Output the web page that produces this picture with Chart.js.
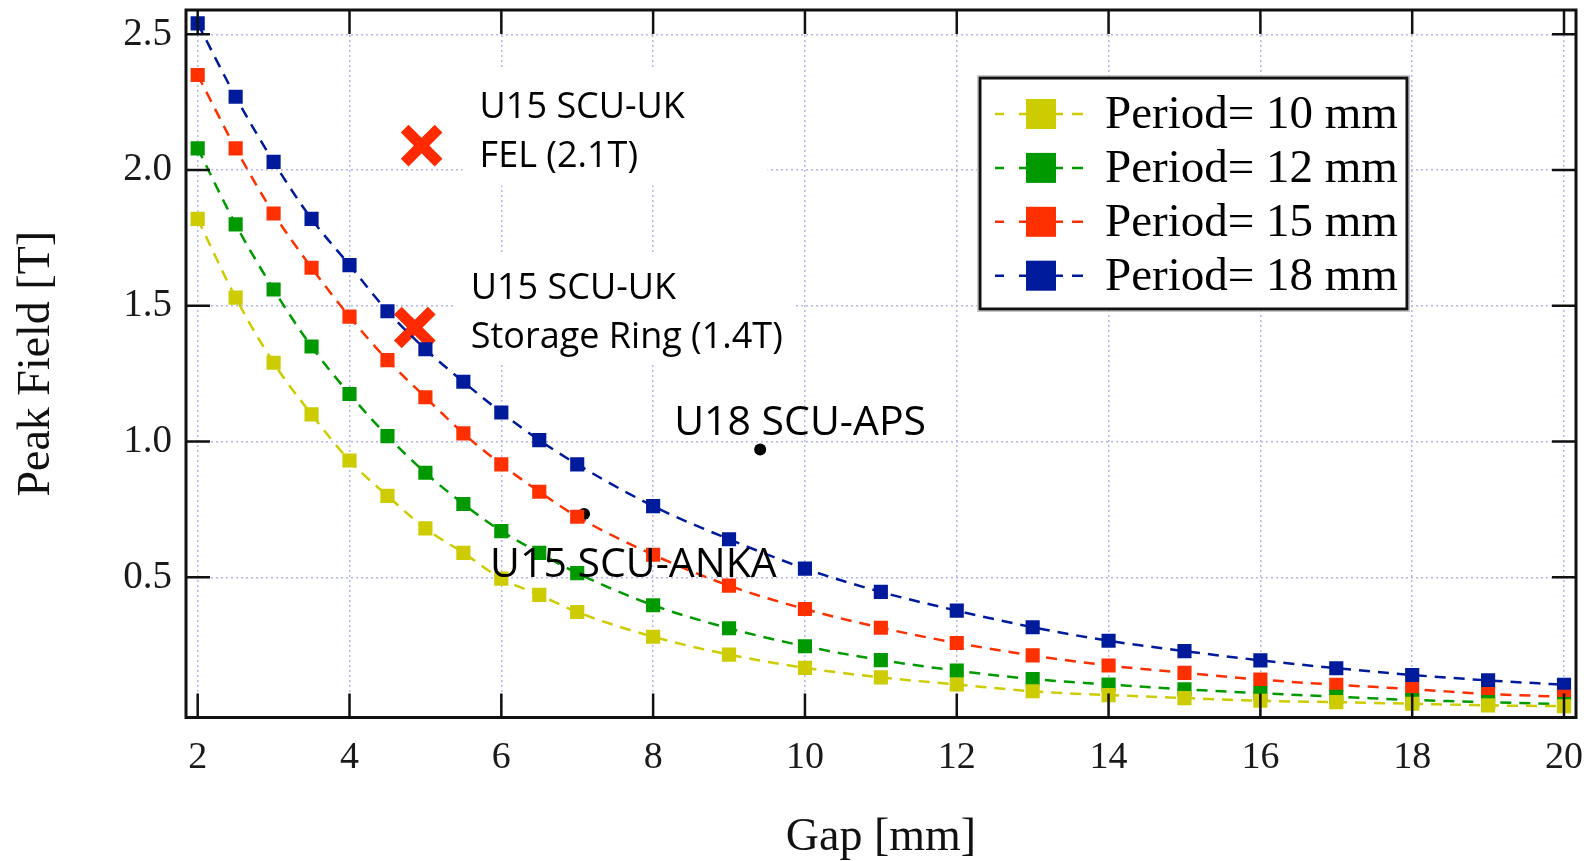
<!DOCTYPE html>
<html>
<head>
<meta charset="utf-8">
<script src="https://cdn.jsdelivr.net/npm/chart.js@4.4.1/dist/chart.umd.min.js"></script>
<style>
  html, body { margin: 0; padding: 0; background: #fff; }
  #wrap { width: 1593px; height: 861px; position: relative; }
</style>
</head>
<body>
<div id="wrap"><canvas id="chart"></canvas></div>
<script>
const gaps = [2, 2.5, 3, 3.5, 4, 4.5, 5, 5.5, 6, 6.5, 7, 8, 9, 10, 11, 12, 13, 14, 15, 16, 17, 18, 19, 20];
const field10 = [1.82, 1.53, 1.29, 1.10, 0.93, 0.80, 0.68, 0.59, 0.495, 0.435, 0.372, 0.281, 0.215, 0.166, 0.131, 0.105, 0.08, 0.066, 0.055, 0.045, 0.04, 0.034, 0.028, 0.025];
const field12 = [2.08, 1.80, 1.56, 1.35, 1.175, 1.02, 0.885, 0.77, 0.670, 0.59, 0.515, 0.397, 0.312, 0.246, 0.195, 0.156, 0.125, 0.105, 0.087, 0.073, 0.06, 0.048, 0.04, 0.033];
const field15 = [2.35, 2.08, 1.84, 1.64, 1.46, 1.30, 1.163, 1.03, 0.916, 0.815, 0.723, 0.583, 0.469, 0.383, 0.314, 0.258, 0.212, 0.175, 0.148, 0.123, 0.104, 0.088, 0.07, 0.06];
const field18 = [2.54, 2.27, 2.03, 1.82, 1.65, 1.48, 1.34, 1.22, 1.107, 1.005, 0.916, 0.762, 0.64, 0.532, 0.446, 0.377, 0.316, 0.266, 0.228, 0.194, 0.165, 0.14, 0.12, 0.104];
const periods = [10, 12, 15, 18];

const xTicks = [2, 4, 6, 8, 10, 12, 14, 16, 18, 20];
const yTicks = [0.5, 1.0, 1.5, 2.0, 2.5];

// devices marked on the plot
const markGap = [4.95, 4.86, 9.41, 7.09];
const markField = [2.09, 1.42, 0.971, 0.733];
const markText = [
  ['U15 SCU-UK', 'FEL (2.1T)'],
  ['U15 SCU-UK', 'Storage Ring (1.4T)'],
  ['U18 SCU-APS'],
  ['U15 SCU-ANKA']
];

const colors = ['#cccc00', '#009a00', '#ff3000', '#001a9c'];
const serif = '"Liberation Serif", "Times New Roman", serif';
const sans = '"Open Sans", "Noto Sans", sans-serif';

// label placement relative to each mark (px)
const noteStyle = [
  { size: 36, dx: 58, lines: [-28, 21], box: [41, -78, 346, 40] },
  { size: 36, dx: 56, lines: [-28, 21], box: [39, -75, 381, 37] },
  { size: 41, dx: -86, lines: [-14] },
  { size: 41, dx: -94, lines: [63] }
];

function series(values, i) {
  return {
    label: 'Period= ' + periods[i] + ' mm',
    data: gaps.map(function (g, k) { return { x: g, y: values[k] }; }),
    borderColor: colors[i],
    backgroundColor: colors[i],
    borderWidth: 2.5,
    borderDash: [11, 8],
    cubicInterpolationMode: 'monotone',
    pointStyle: 'rect',
    pointRadius: 10,
    pointBorderWidth: 0,
    pointBackgroundColor: colors[i]
  };
}

const markData = markGap.map(function (g, i) { return { x: g, y: markField[i] }; });

const notesPlugin = {
  id: 'notes',
  beforeDatasetsDraw(chart) {
    const ctx = chart.ctx;
    const xs = chart.scales.x, ys = chart.scales.y;
    ctx.save();
    ctx.fillStyle = '#fff';
    noteStyle.forEach(function (s, i) {
      if (!s.box) return;
      const px = xs.getPixelForValue(markGap[i]);
      const py = ys.getPixelForValue(markField[i]);
      ctx.fillRect(px + s.box[0], py + s.box[1], s.box[2] - s.box[0], s.box[3] - s.box[1]);
    });
    ctx.restore();
  },
  afterDatasetsDraw(chart) {
    const ctx = chart.ctx;
    const xs = chart.scales.x, ys = chart.scales.y;
    ctx.save();
    ctx.fillStyle = '#000';
    ctx.textAlign = 'left';
    ctx.textBaseline = 'alphabetic';
    noteStyle.forEach(function (s, i) {
      const px = xs.getPixelForValue(markGap[i]);
      const py = ys.getPixelForValue(markField[i]);
      ctx.font = s.size + 'px ' + sans;
      markText[i].forEach(function (t, k) {
        ctx.fillText(t, px + s.dx, py + s.lines[k]);
      });
    });

    // legend box
    const L = 980, T = 78, R = 1407, B = 309;
    ctx.fillStyle = '#fff';
    ctx.fillRect(L, T, R - L, B - T);
    ctx.strokeStyle = '#c8c8c8';
    ctx.lineWidth = 1;
    ctx.strokeRect(L - 2.5, T - 2.5, R - L + 5, B - T + 5);
    ctx.strokeStyle = '#111';
    ctx.lineWidth = 3;
    ctx.strokeRect(L, T, R - L, B - T);
    ctx.font = '47px ' + serif;
    ctx.textBaseline = 'middle';
    chart.data.datasets.slice(0, 4).forEach(function (ds, i) {
      const y = 114 + i * 53.9;
      ctx.strokeStyle = colors[i];
      ctx.lineWidth = 2.5;
      ctx.beginPath();
      ctx.moveTo(995, y); ctx.lineTo(1004, y);
      ctx.moveTo(1019, y); ctx.lineTo(1063, y);
      ctx.moveTo(1072, y); ctx.lineTo(1083, y);
      ctx.stroke();
      ctx.fillStyle = colors[i];
      ctx.fillRect(1026, y - 15, 30, 30);
      ctx.fillStyle = '#000';
      ctx.fillText(ds.label, 1105, y + 2);
    });
    ctx.restore();
  },
  afterDraw(chart) {
    const ctx = chart.ctx;
    const a = chart.chartArea;
    const xs = chart.scales.x, ys = chart.scales.y;
    const tl = 24;
    ctx.save();
    ctx.strokeStyle = '#111';
    ctx.lineWidth = 2.5;
    ctx.beginPath();
    xTicks.forEach(function (v) {
      const px = xs.getPixelForValue(v);
      ctx.moveTo(px, a.bottom); ctx.lineTo(px, a.bottom - tl);
      ctx.moveTo(px, a.top); ctx.lineTo(px, a.top + tl);
    });
    yTicks.forEach(function (v) {
      const py = ys.getPixelForValue(v);
      ctx.moveTo(a.left, py); ctx.lineTo(a.left + tl, py);
      ctx.moveTo(a.right, py); ctx.lineTo(a.right - tl, py);
    });
    ctx.stroke();
    ctx.lineWidth = 3;
    ctx.strokeRect(a.left, a.top, a.right - a.left, a.bottom - a.top);
    ctx.restore();
  }
};

new Chart(document.getElementById('chart'), {
  type: 'line',
  data: {
    datasets: [
      series(field10, 0),
      series(field12, 1),
      series(field15, 2),
      series(field18, 3),
      {
        type: 'scatter',
        label: 'UK',
        data: markData.slice(0, 2),
        showLine: false,
        pointStyle: 'crossRot',
        pointRadius: 24,
        pointBorderWidth: 11,
        pointBorderColor: '#ff2a00',
        pointBackgroundColor: '#ff2a00'
      },
      {
        type: 'scatter',
        label: 'other',
        data: markData.slice(2),
        showLine: false,
        pointStyle: 'circle',
        pointRadius: 6,
        pointBorderWidth: 0,
        pointBackgroundColor: '#000'
      }
    ]
  },
  options: {
    responsive: true,
    maintainAspectRatio: false,
    animation: false,
    layout: { autoPadding: false, padding: { top: 10, right: 17, left: 0, bottom: 0 } },
    scales: {
      x: {
        type: 'linear',
        min: 1.846,
        max: 20.158,
        afterFit: function (s) { s.height = 143.5; s.paddingLeft = 0; s.paddingRight = 0; },
        afterBuildTicks: function (s) { s.ticks = xTicks.map(function (v) { return { value: v }; }); },
        ticks: { color: '#1a1a1a', padding: 21.5, font: { family: serif, size: 38, lineHeight: 1 }, maxRotation: 0 },
        grid: { color: '#b6b6ee', lineWidth: 1.5, drawTicks: false },
        border: { display: false, dash: [2, 3] },
        title: { display: true, text: 'Gap [mm]', color: '#111', font: { family: serif, size: 46, lineHeight: 1 }, padding: { top: 0, bottom: 0 } }
      },
      y: {
        min: -0.0166,
        max: 2.5895,
        afterFit: function (s) { s.width = 186; s.paddingTop = 0; s.paddingBottom = 0; },
        afterBuildTicks: function (s) { s.ticks = yTicks.map(function (v) { return { value: v }; }); },
        ticks: { color: '#1a1a1a', padding: 14, font: { family: serif, size: 39, lineHeight: 1 },
          callback: function (v) { return v.toFixed(1); } },
        grid: { color: '#b6b6ee', lineWidth: 1.5, drawTicks: false },
        border: { display: false, dash: [2, 3] },
        title: { display: true, text: 'Peak Field [T]', color: '#111', font: { family: serif, size: 46, lineHeight: 1 }, padding: { top: 14, bottom: 0 } }
      }
    },
    plugins: {
      legend: { display: false },
      tooltip: { enabled: false }
    }
  },
  plugins: [notesPlugin]
});
</script>
</body>
</html>
